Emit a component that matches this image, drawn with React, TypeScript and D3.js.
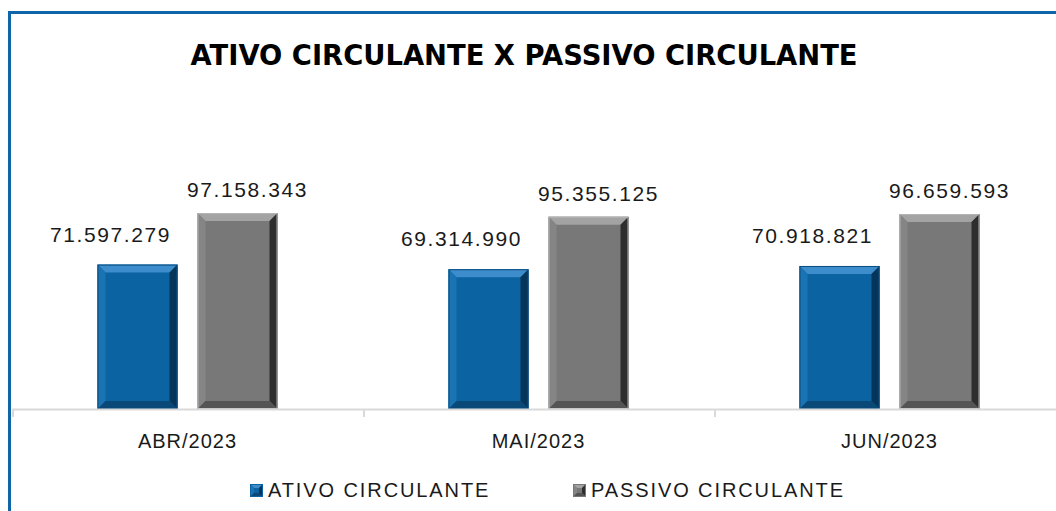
import React from "react";
import * as d3 from "d3";

const categories = ["ABR/2023", "MAI/2023", "JUN/2023"];
const seriesNames = ["ATIVO CIRCULANTE", "PASSIVO CIRCULANTE"];
const ativo = [71597279, 69314990, 70918821];
const passivo = [97158343, 95355125, 96659593];
const title = "ATIVO CIRCULANTE X PASSIVO CIRCULANTE";

const W = 1056;
const H = 511;
const FONT = "'Liberation Sans', Arial, sans-serif";

const palettes = [
  { main: "#0b63a1", top: "#3d8ccb", left: "#1a73b3", right: "#06355a", bottom: "#0a4877", edge: "#0a4f80" },
  { main: "#787878", top: "#a3a3a3", left: "#858585", right: "#2e2e2e", bottom: "#545454", edge: "#b5b5b5" },
];

function fmt(v: number) {
  return d3.format(",")(v).replace(/,/g, ".");
}

function BevelBar({ x, y, w, h, p, bev = 8 }: { x: number; y: number; w: number; h: number; p: any; bev?: number }) {
  const b = Math.min(bev, h / 2);
  const x2 = x + w, y2 = y + h;
  return (
    <g>
      <rect x={x} y={y} width={w} height={h} fill={p.main} />
      <polygon points={`${x},${y} ${x2},${y} ${x2 - b},${y + b} ${x + b},${y + b}`} fill={p.top} />
      <polygon points={`${x},${y} ${x + b},${y + b} ${x + b},${y2 - b} ${x},${y2}`} fill={p.left} />
      <polygon points={`${x2},${y} ${x2},${y2} ${x2 - b},${y2 - b} ${x2 - b},${y + b}`} fill={p.right} />
      <polygon points={`${x},${y2} ${x + b},${y2 - b} ${x2 - b},${y2 - b} ${x2},${y2}`} fill={p.bottom} />
      <rect x={x + 0.5} y={y + 0.5} width={w - 1} height={h - 1} fill="none" stroke={p.edge} strokeWidth={1} />
    </g>
  );
}

export default function App() {
  const x0 = d3.scaleBand<string>().domain(categories).range([12, 1065]).padding(0);
  const x1 = d3.scaleBand<string>().domain(seriesNames).range([0, x0.bandwidth()]).paddingInner(0.2).paddingOuter(0.855);
  const y = d3.scaleLinear().domain([0, 120000000]).range([409, 167]);
  const series = [ativo, passivo];
  const labelDx = [-27, 10];
  const labelDy = [-23, -16];

  return (
    <svg width={W} height={H} style={{ position: "absolute", left: 0, top: 0, display: "block" }} fontFamily={FONT}>
      <rect x={0} y={0} width={W} height={H} fill="#fff" />
      <rect x={9.5} y={12.5} width={W + 20} height={H + 20} fill="none" stroke="#0e65a8" strokeWidth={3} />
      <text x={524} y={65} textAnchor="middle" fontSize={28} fontWeight="bold" fill="#000"
        fontFamily="'DejaVu Sans', sans-serif" textLength={667} lengthAdjust="spacingAndGlyphs">
        {title}
      </text>

      {categories.map((c, i) =>
        series.map((s, si) => {
          const bx = (x0(c) as number) + (x1(seriesNames[si]) as number);
          const by = y(s[i]);
          const bw = x1.bandwidth();
          return (
            <g key={c + si}>
              <BevelBar x={bx} y={by} w={bw} h={y(0) - by} p={palettes[si]} />
              <text x={bx + bw / 2 + labelDx[si]} y={by + labelDy[si]} textAnchor="middle" fontSize={21}
                letterSpacing={1.6} fill="#1a1a1a">
                {fmt(s[i])}
              </text>
            </g>
          );
        })
      )}

      <line x1={12} x2={W} y1={409.5} y2={409.5} stroke="#d9d9d9" strokeWidth={2} />
      {categories.map((c) => x0(c) as number).map((t, i) => (
        <line key={i} x1={t + 1} x2={t + 1} y1={409} y2={417} stroke="#d9d9d9" strokeWidth={2} />
      ))}
      {categories.map((c) => (
        <text key={c} x={(x0(c) as number) + x0.bandwidth() / 2} y={448} textAnchor="middle" fontSize={20}
          letterSpacing={1} fill="#1a1a1a">
          {c}
        </text>
      ))}

      {seriesNames.map((n, i) => {
        const lx = [250, 573][i];
        const p = palettes[i];
        return (
          <g key={n}>
            <BevelBar x={lx} y={484} w={13} h={13} p={{ ...p, edge: p.main }} bev={4} />
            <text x={lx + 18} y={497} fontSize={20} letterSpacing={1.9} fill="#1a1a1a">
              {n}
            </text>
          </g>
        );
      })}
    </svg>
  );
}
